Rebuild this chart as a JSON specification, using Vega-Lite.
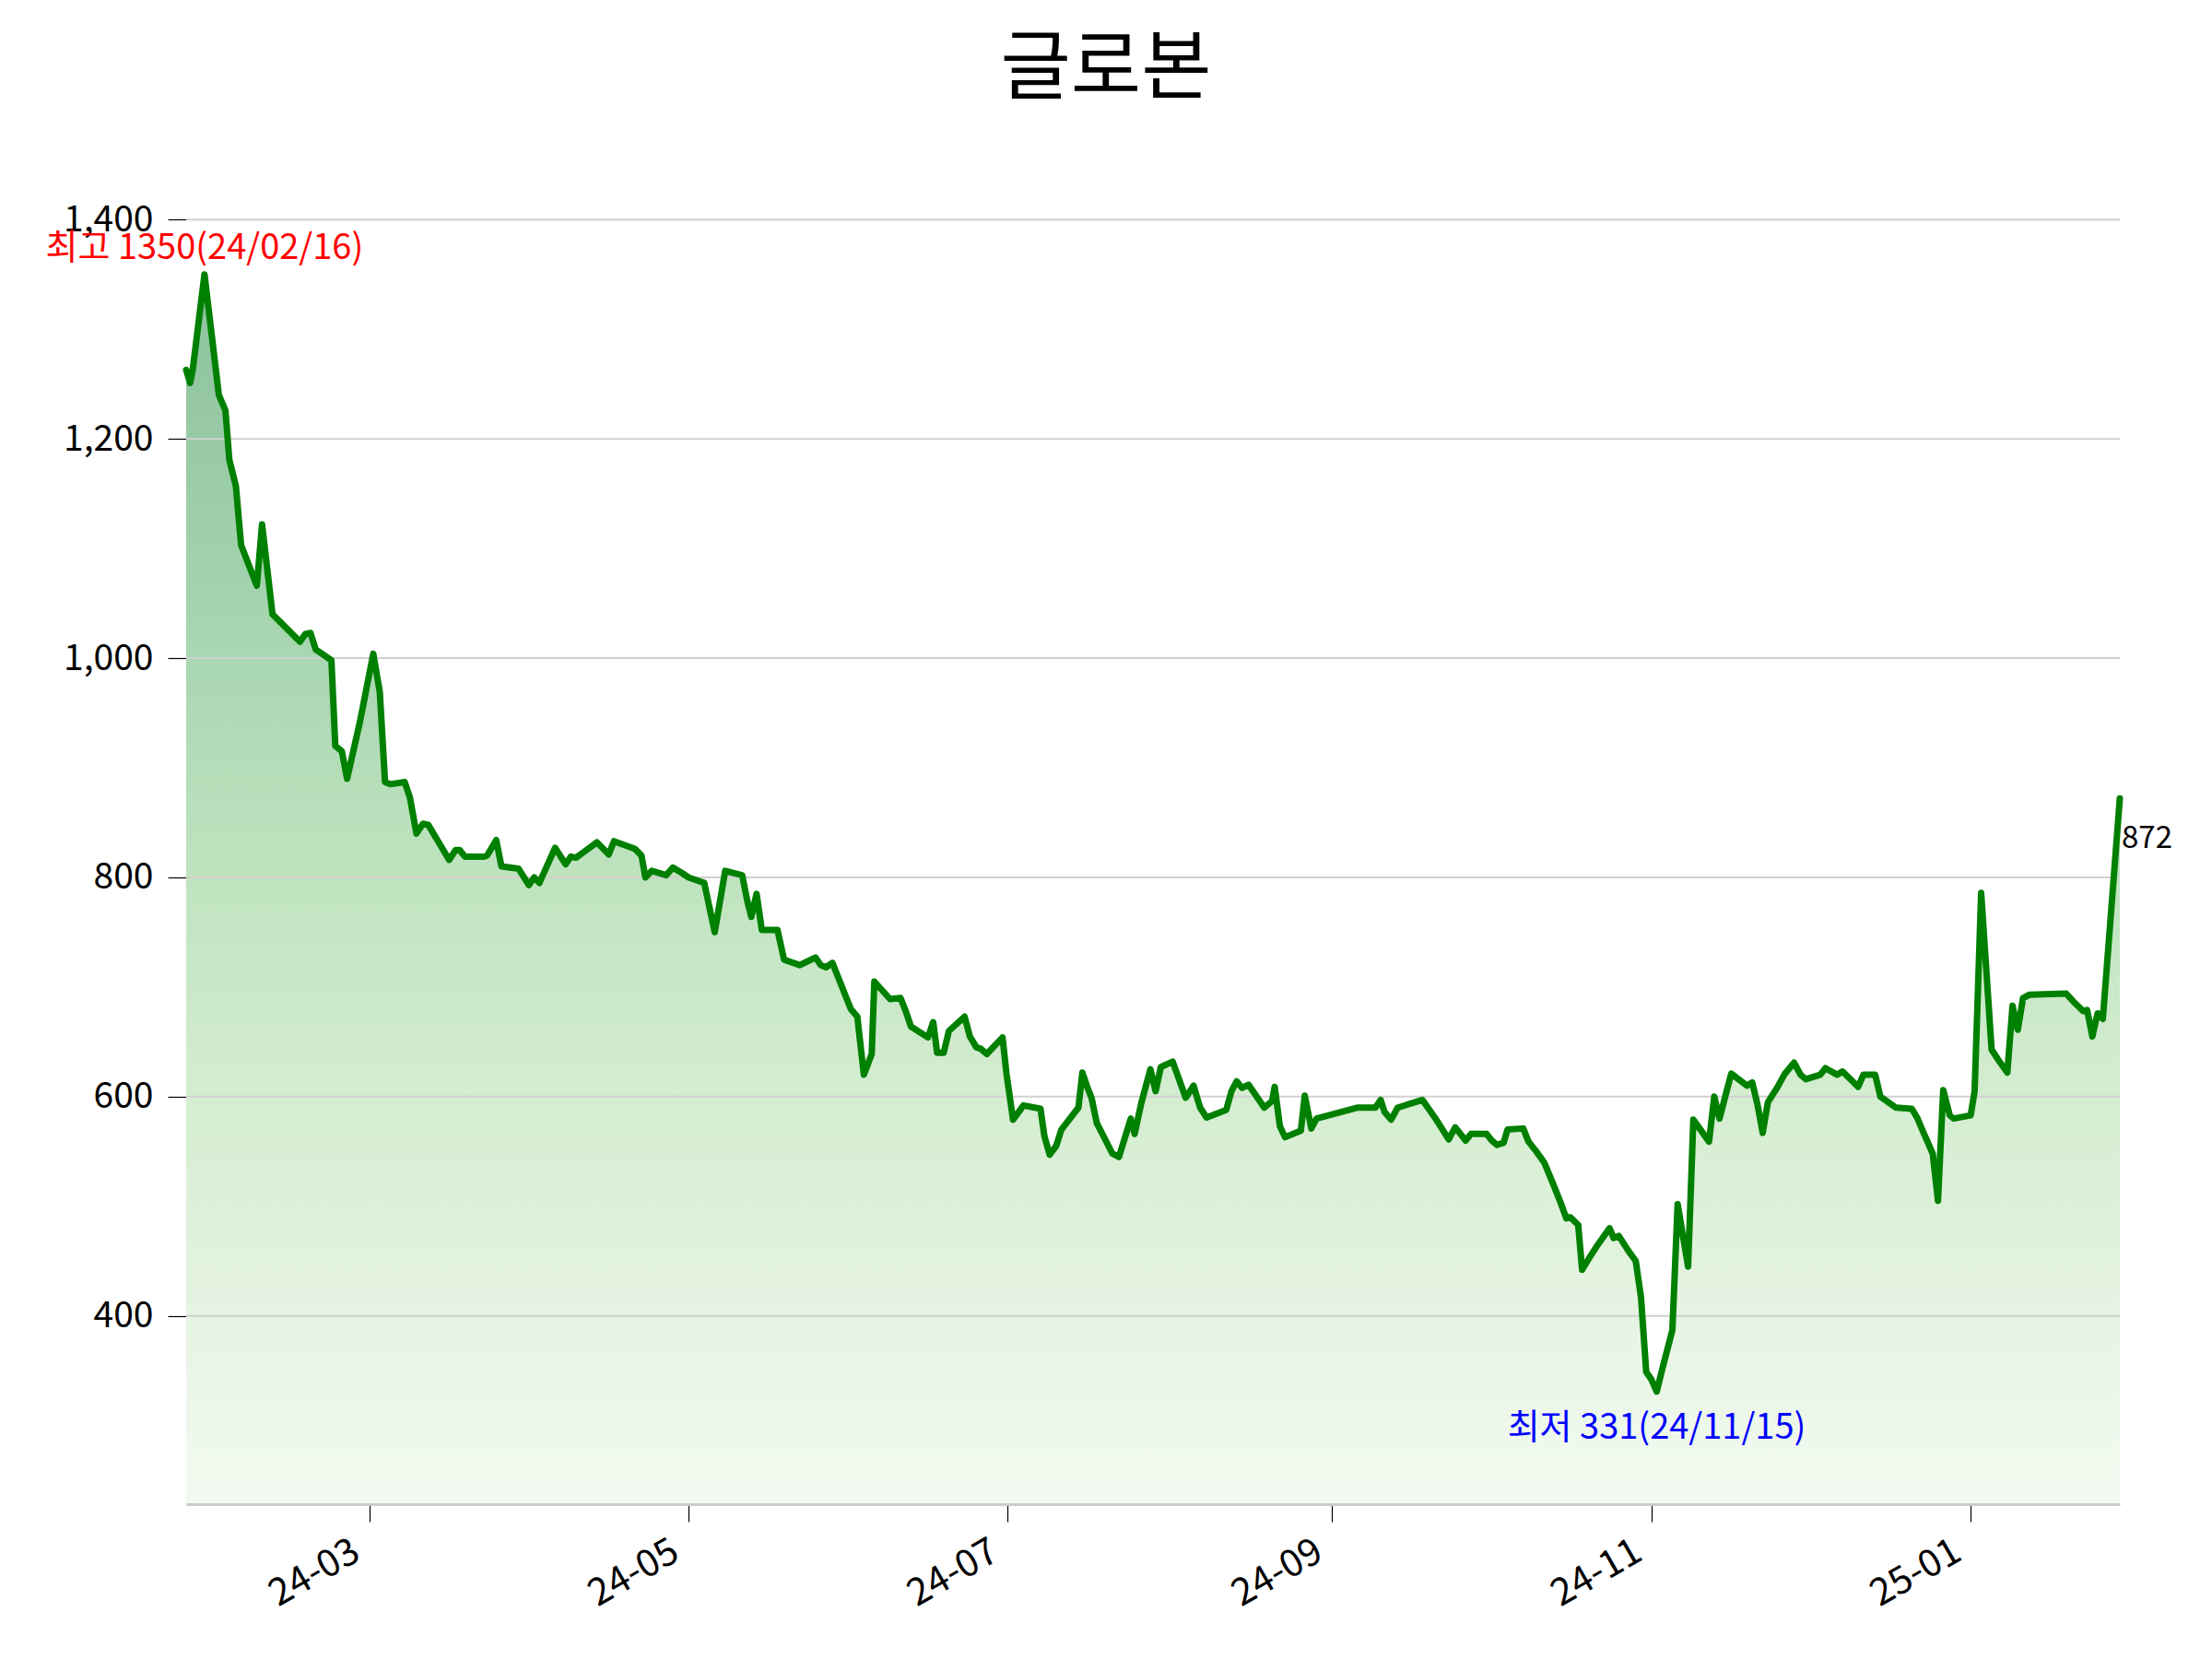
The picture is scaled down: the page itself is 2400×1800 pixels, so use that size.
{
"$schema":"https://vega.github.io/schema/vega-lite/v6.json",
"width":2098,"height":1415,
"autosize":{"type":"none"},
"padding":{"left":202,"top":217,"right":100,"bottom":168},
"background":"white",
"config":{"view":{"stroke":null},"font":"Noto Sans CJK KR"},
"title":{"text":"글로본","fontSize":83,"font":"Noto Sans CJK KR","fontWeight":"normal","color":"black","anchor":"middle","dx":-51,"offset":33,"baseline":"alphabetic"},
"datasets":{
"prices":[
{"d":"2024-01-26T00:00Z","v":1263},{"d":"2024-01-26T18:00Z","v":1251},{"d":"2024-01-27T06:00Z","v":1263},{"d":"2024-01-29T12:00Z","v":1350},
{"d":"2024-02-01T06:00Z","v":1240},{"d":"2024-02-02T12:00Z","v":1226},{"d":"2024-02-03T06:00Z","v":1181},{"d":"2024-02-04T12:00Z","v":1157},
{"d":"2024-02-05T12:00Z","v":1103},{"d":"2024-02-08T12:00Z","v":1066},{"d":"2024-02-09T12:00Z","v":1122},{"d":"2024-02-11T12:00Z","v":1040},
{"d":"2024-02-16T18:00Z","v":1015},{"d":"2024-02-17T18:00Z","v":1022},{"d":"2024-02-18T18:00Z","v":1023},{"d":"2024-02-19T18:00Z","v":1008},
{"d":"2024-02-22T18:00Z","v":998},{"d":"2024-02-23T12:00Z","v":920},{"d":"2024-02-24T18:00Z","v":915},{"d":"2024-02-25T18:00Z","v":890},
{"d":"2024-02-28T06:00Z","v":943},{"d":"2024-03-01T18:00Z","v":1004},{"d":"2024-03-03T00:00Z","v":969},{"d":"2024-03-04T00:00Z","v":887},
{"d":"2024-03-05T00:00Z","v":885},{"d":"2024-03-07T18:00Z","v":887},{"d":"2024-03-08T18:00Z","v":873},{"d":"2024-03-10T00:00Z","v":840},
{"d":"2024-03-11T06:00Z","v":849},{"d":"2024-03-12T06:00Z","v":848},{"d":"2024-03-14T12:00Z","v":830},{"d":"2024-03-16T06:00Z","v":816},
{"d":"2024-03-17T12:00Z","v":825},{"d":"2024-03-18T06:00Z","v":825},{"d":"2024-03-19T06:00Z","v":819},{"d":"2024-03-23T00:00Z","v":819},
{"d":"2024-03-23T12:00Z","v":820},{"d":"2024-03-25T06:00Z","v":834},{"d":"2024-03-26T06:00Z","v":810},{"d":"2024-03-29T12:00Z","v":808},
{"d":"2024-03-31T12:00Z","v":793},{"d":"2024-04-01T12:00Z","v":800},{"d":"2024-04-02T12:00Z","v":795},{"d":"2024-04-05T12:00Z","v":827},
{"d":"2024-04-07T12:00Z","v":812},{"d":"2024-04-08T12:00Z","v":819},{"d":"2024-04-09T12:00Z","v":818},{"d":"2024-04-11T12:00Z","v":825},
{"d":"2024-04-13T12:00Z","v":832},{"d":"2024-04-15T18:00Z","v":821},{"d":"2024-04-16T18:00Z","v":833},{"d":"2024-04-20T18:00Z","v":826},
{"d":"2024-04-22T00:00Z","v":820},{"d":"2024-04-22T18:00Z","v":800},{"d":"2024-04-24T00:00Z","v":806},{"d":"2024-04-26T18:00Z","v":802},
{"d":"2024-04-28T00:00Z","v":809},{"d":"2024-04-29T18:00Z","v":804},{"d":"2024-05-01T00:00Z","v":800},{"d":"2024-05-04T00:00Z","v":795},
{"d":"2024-05-06T00:00Z","v":750},{"d":"2024-05-08T00:00Z","v":806},{"d":"2024-05-11T06:00Z","v":802},{"d":"2024-05-12T06:00Z","v":778},
{"d":"2024-05-13T00:00Z","v":764},{"d":"2024-05-14T00:00Z","v":785},{"d":"2024-05-15T00:00Z","v":752},{"d":"2024-05-18T00:00Z","v":752},
{"d":"2024-05-19T06:00Z","v":725},{"d":"2024-05-22T06:00Z","v":720},{"d":"2024-05-25T06:00Z","v":727},{"d":"2024-05-26T06:00Z","v":720},
{"d":"2024-05-27T06:00Z","v":718},{"d":"2024-05-28T12:00Z","v":722},{"d":"2024-06-01T00:00Z","v":680},{"d":"2024-06-02T06:00Z","v":673},
{"d":"2024-06-03T12:00Z","v":620},{"d":"2024-06-05T00:00Z","v":639},{"d":"2024-06-05T12:00Z","v":705},{"d":"2024-06-08T12:00Z","v":689},
{"d":"2024-06-10T12:00Z","v":690},{"d":"2024-06-11T12:00Z","v":678},{"d":"2024-06-12T12:00Z","v":664},{"d":"2024-06-15T18:00Z","v":654},
{"d":"2024-06-16T18:00Z","v":668},{"d":"2024-06-17T12:00Z","v":640},{"d":"2024-06-18T18:00Z","v":640},{"d":"2024-06-19T18:00Z","v":660},
{"d":"2024-06-22T18:00Z","v":673},{"d":"2024-06-23T18:00Z","v":655},{"d":"2024-06-25T00:00Z","v":645},{"d":"2024-06-25T18:00Z","v":644},
{"d":"2024-06-27T00:00Z","v":639},{"d":"2024-06-30T00:00Z","v":654},{"d":"2024-06-30T18:00Z","v":621},{"d":"2024-07-02T00:00Z","v":579},
{"d":"2024-07-04T00:00Z","v":592},{"d":"2024-07-07T06:00Z","v":589},{"d":"2024-07-08T00:00Z","v":564},{"d":"2024-07-09T00:00Z","v":547},
{"d":"2024-07-10T06:00Z","v":555},{"d":"2024-07-11T06:00Z","v":570},{"d":"2024-07-14T12:00Z","v":590},{"d":"2024-07-15T06:00Z","v":622},
{"d":"2024-07-16T06:00Z","v":608},{"d":"2024-07-17T00:00Z","v":599},{"d":"2024-07-18T00:00Z","v":576},{"d":"2024-07-21T00:00Z","v":548},
{"d":"2024-07-22T06:00Z","v":545},{"d":"2024-07-24T12:00Z","v":580},{"d":"2024-07-25T06:00Z","v":566},{"d":"2024-07-26T12:00Z","v":594},
{"d":"2024-07-28T06:00Z","v":625},{"d":"2024-07-29T06:00Z","v":605},{"d":"2024-07-30T06:00Z","v":627},{"d":"2024-08-01T12:00Z","v":632},
{"d":"2024-08-04T00:00Z","v":599},{"d":"2024-08-05T12:00Z","v":610},{"d":"2024-08-06T18:00Z","v":590},{"d":"2024-08-08T00:00Z","v":581},
{"d":"2024-08-11T18:00Z","v":588},{"d":"2024-08-12T18:00Z","v":605},{"d":"2024-08-13T18:00Z","v":614},{"d":"2024-08-14T18:00Z","v":608},
{"d":"2024-08-16T00:00Z","v":611},{"d":"2024-08-19T00:00Z","v":590},{"d":"2024-08-20T12:00Z","v":596},{"d":"2024-08-21T00:00Z","v":609},
{"d":"2024-08-22T00:00Z","v":573},{"d":"2024-08-23T00:00Z","v":563},{"d":"2024-08-26T00:00Z","v":569},{"d":"2024-08-26T18:00Z","v":601},
{"d":"2024-08-28T00:00Z","v":571},{"d":"2024-08-29T00:00Z","v":580},{"d":"2024-09-05T18:00Z","v":590},{"d":"2024-09-09T06:00Z","v":590},
{"d":"2024-09-10T06:00Z","v":597},{"d":"2024-09-11T00:00Z","v":586},{"d":"2024-09-12T06:00Z","v":579},{"d":"2024-09-13T12:00Z","v":590},
{"d":"2024-09-18T06:00Z","v":597},{"d":"2024-09-20T18:00Z","v":580},{"d":"2024-09-23T06:00Z","v":561},{"d":"2024-09-24T12:00Z","v":572},
{"d":"2024-09-26T12:00Z","v":560},{"d":"2024-09-27T12:00Z","v":566},{"d":"2024-09-30T12:00Z","v":566},{"d":"2024-10-01T12:00Z","v":560},
{"d":"2024-10-02T12:00Z","v":556},{"d":"2024-10-03T18:00Z","v":558},{"d":"2024-10-04T12:00Z","v":570},{"d":"2024-10-07T12:00Z","v":571},
{"d":"2024-10-08T12:00Z","v":559},{"d":"2024-10-10T00:00Z","v":550},{"d":"2024-10-11T12:00Z","v":540},{"d":"2024-10-13T06:00Z","v":520},
{"d":"2024-10-14T12:00Z","v":505},{"d":"2024-10-15T18:00Z","v":489},{"d":"2024-10-16T12:00Z","v":490},{"d":"2024-10-18T00:00Z","v":483},
{"d":"2024-10-18T18:00Z","v":442},{"d":"2024-10-20T06:00Z","v":454},{"d":"2024-10-21T18:00Z","v":465},{"d":"2024-10-22T12:00Z","v":470},
{"d":"2024-10-24T00:00Z","v":480},{"d":"2024-10-24T18:00Z","v":471},{"d":"2024-10-25T18:00Z","v":473},{"d":"2024-10-27T12:00Z","v":460},
{"d":"2024-10-29T00:00Z","v":450},{"d":"2024-10-30T00:00Z","v":417},{"d":"2024-10-31T00:00Z","v":349},{"d":"2024-11-01T00:00Z","v":342},
{"d":"2024-11-02T00:00Z","v":331},{"d":"2024-11-03T06:00Z","v":355},{"d":"2024-11-05T00:00Z","v":387},{"d":"2024-11-06T00:00Z","v":502},
{"d":"2024-11-08T00:00Z","v":445},{"d":"2024-11-09T00:00Z","v":579},{"d":"2024-11-12T00:00Z","v":559},{"d":"2024-11-13T00:00Z","v":600},
{"d":"2024-11-14T00:00Z","v":580},{"d":"2024-11-15T06:00Z","v":603},{"d":"2024-11-16T06:00Z","v":621},{"d":"2024-11-19T06:00Z","v":610},
{"d":"2024-11-20T06:00Z","v":613},{"d":"2024-11-21T06:00Z","v":593},{"d":"2024-11-22T06:00Z","v":567},{"d":"2024-11-23T06:00Z","v":595},
{"d":"2024-11-25T00:00Z","v":608},{"d":"2024-11-26T12:00Z","v":621},{"d":"2024-11-28T06:00Z","v":631},{"d":"2024-11-29T12:00Z","v":620},
{"d":"2024-11-30T12:00Z","v":616},{"d":"2024-12-03T06:00Z","v":620},{"d":"2024-12-04T06:00Z","v":626},{"d":"2024-12-06T12:00Z","v":620},
{"d":"2024-12-07T12:00Z","v":623},{"d":"2024-12-10T12:00Z","v":609},{"d":"2024-12-11T12:00Z","v":620},{"d":"2024-12-13T18:00Z","v":620},
{"d":"2024-12-14T18:00Z","v":600},{"d":"2024-12-17T18:00Z","v":590},{"d":"2024-12-20T18:00Z","v":589},{"d":"2024-12-21T18:00Z","v":581},
{"d":"2024-12-23T00:00Z","v":567},{"d":"2024-12-24T18:00Z","v":548},{"d":"2024-12-25T18:00Z","v":505},{"d":"2024-12-26T18:00Z","v":606},
{"d":"2024-12-28T00:00Z","v":583},{"d":"2024-12-28T18:00Z","v":580},{"d":"2025-01-01T00:00Z","v":583},{"d":"2025-01-01T18:00Z","v":605},
{"d":"2025-01-03T00:00Z","v":786},{"d":"2025-01-05T00:00Z","v":643},{"d":"2025-01-06T12:00Z","v":632},{"d":"2025-01-08T00:00Z","v":622},
{"d":"2025-01-09T00:00Z","v":683},{"d":"2025-01-10T00:00Z","v":661},{"d":"2025-01-11T00:00Z","v":690},{"d":"2025-01-12T06:00Z","v":693},
{"d":"2025-01-19T06:00Z","v":694},{"d":"2025-01-21T00:00Z","v":685},{"d":"2025-01-22T12:00Z","v":678},{"d":"2025-01-23T06:00Z","v":679},
{"d":"2025-01-24T06:00Z","v":655},{"d":"2025-01-25T06:00Z","v":676},{"d":"2025-01-26T06:00Z","v":671},{"d":"2025-01-29T12:00Z","v":872}
],
"notes":[
{"d":"2024-01-29T12:00Z","v":1350,"kind":"max","label":"최고 1350(24/02/16)"},
{"d":"2024-11-02T00:00Z","v":331,"kind":"min","label":"최저 331(24/11/15)"},
{"d":"2025-01-29T12:00Z","v":872,"kind":"last","label":"872"}
],
"grid":[{"g":400},{"g":600},{"g":800},{"g":1000},{"g":1200},{"g":1400}]
},
"encoding":{
"x":{"field":"d","type":"temporal","title":null,
"scale":{"type":"utc","nice":false,"domain":[{"year":2024,"month":1,"date":26,"utc":true},{"year":2025,"month":1,"date":29,"hours":12,"utc":true}]},
"axis":{"values":[{"year":2024,"month":3,"date":1,"utc":true},{"year":2024,"month":5,"date":1,"utc":true},{"year":2024,"month":7,"date":1,"utc":true},{"year":2024,"month":9,"date":1,"utc":true},{"year":2024,"month":11,"date":1,"utc":true},{"year":2025,"month":1,"date":1,"utc":true}],
"format":"%y-%m","grid":false,"domainColor":"#cccccc","domainWidth":3,"tickColor":"black","tickSize":19,"tickWidth":1.2,"labelAngle":-30,"labelAlign":"right","labelBaseline":"top","labelFontSize":41,"labelPadding":12,"labelOffset":-24,"labelColor":"black","labelFont":"Noto Sans CJK KR","zindex":1}},
"y":{"field":"v","type":"quantitative","title":null,
"scale":{"domain":[228.3,1417.9],"nice":false,"zero":false},
"axis":{"values":[400,600,800,1000,1200,1400],"format":",d","domain":false,"grid":false,"tickColor":"black","tickSize":20,"tickWidth":1.2,"labelFontSize":39,"labelPadding":16,"labelColor":"black","labelFont":"Noto Sans CJK KR"}}
},
"layer":[
{"data":{"name":"prices"},
"mark":{"type":"area","color":{"gradient":"linear","x1":0,"y1":0,"x2":0,"y2":1,"stops":[
{"offset":0,"color":"#8dc09c"},{"offset":0.135,"color":"#98caa6"},{"offset":0.31,"color":"#a8d7b1"},{"offset":0.49,"color":"#bfe3bf"},{"offset":0.67,"color":"#d4edd0"},{"offset":0.85,"color":"#e6f4e3"},{"offset":1,"color":"#f3faf1"}]}},
"encoding":{"y2":{"datum":228.3}}},
{"data":{"name":"grid"},"mark":{"type":"rule","color":"#d0d0d0","strokeWidth":2},
"encoding":{"x":null,"y":{"field":"g","type":"quantitative"}}},
{"data":{"name":"prices"},"mark":{"type":"line","color":"#008000","strokeWidth":7,"strokeJoin":"round","strokeCap":"round"},"encoding":{}},
{"data":{"name":"notes"},"transform":[{"filter":"datum.kind=='max'"}],
"mark":{"type":"text","color":"red","fontSize":38,"align":"center","baseline":"alphabetic","dy":-17,"font":"Noto Sans CJK KR"},
"encoding":{"text":{"field":"label"}}},
{"data":{"name":"notes"},"transform":[{"filter":"datum.kind=='min'"}],
"mark":{"type":"text","color":"blue","fontSize":38,"align":"center","baseline":"alphabetic","dy":51,"font":"Noto Sans CJK KR"},
"encoding":{"text":{"field":"label"}}},
{"data":{"name":"notes"},"transform":[{"filter":"datum.kind=='last'"}],
"mark":{"type":"text","color":"black","fontSize":33,"align":"left","baseline":"alphabetic","dx":2,"dy":54,"font":"Noto Sans CJK KR"},
"encoding":{"text":{"field":"label"}}}
]
}
